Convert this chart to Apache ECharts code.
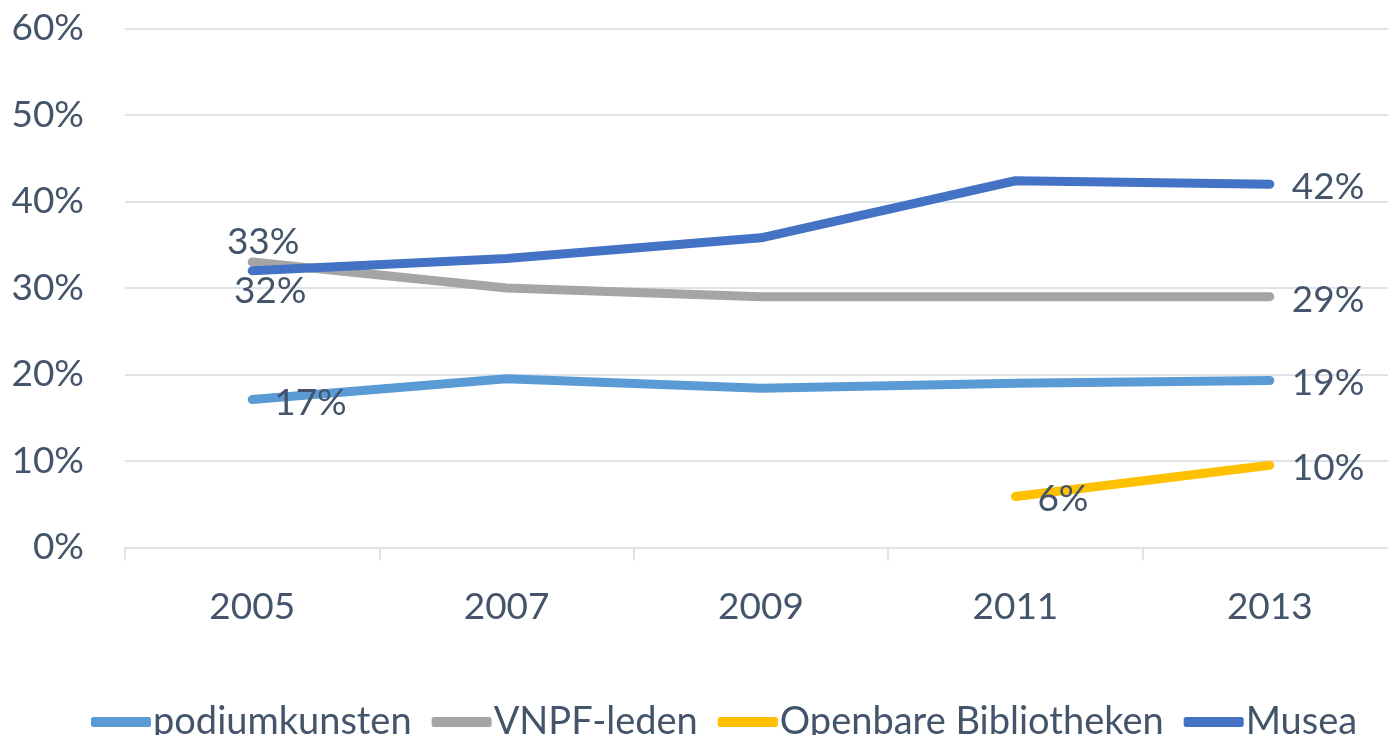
<!DOCTYPE html>
<html>
<head>
<meta charset="utf-8">
<script src="https://cdn.jsdelivr.net/npm/echarts@6/dist/echarts.min.js"></script>
<style>
  html, body { margin: 0; padding: 0; background: #fff; overflow: hidden; }
  #chart { width: 1397px; height: 735px; }
</style>
</head>
<body>
<div id="chart"></div>
<script>
// years on the x axis
var years = ['2005', '2007', '2009', '2011', '2013'];

// shares, as fractions
var podiumkunsten = [0.171, 0.195, 0.184, 0.190, 0.193];
var vnpfLeden = [0.330, 0.300, 0.290, 0.290, 0.290];
var bibliotheken = [null, null, null, 0.059, 0.095];
var musea = [0.320, 0.334, 0.358, 0.424, 0.420];

var yTicks = [0, 0.1, 0.2, 0.3, 0.4, 0.5, 0.6];

var textColor = '#44546A';
var gridColor = '#DEE3EA';
var font = 'Lato';

var rightLabel = { position: 'right', distance: 22, offset: [0, 3] };

// label first and last point only, like the original
function withLabels(values, firstLabel) {
    var first = -1, last = -1;
    for (var i = 0; i < values.length; i++) {
        if (values[i] != null) {
            if (first < 0) first = i;
            last = i;
        }
    }
    return values.map(function (v, i) {
        if (i === first) return { value: v, label: Object.assign({ show: true }, firstLabel) };
        if (i === last) return { value: v, label: Object.assign({ show: true }, rightLabel) };
        return v;
    });
}

function makeSeries(name, values, color, firstLabel) {
    return {
        name: name,
        type: 'line',
        data: withLabels(values, firstLabel),
        showSymbol: true,
        symbol: 'circle',
        symbolSize: 0,
        lineStyle: { width: 9, color: color, cap: 'round', join: 'round' },
        itemStyle: { color: color },
        label: {
            show: false,
            color: textColor,
            fontFamily: font,
            fontSize: 37,
            formatter: function (p) { return Math.round(p.value * 100) + '%'; }
        },
        emphasis: { disabled: true }
    };
}

var myChart = echarts.init(document.getElementById('chart'));
var option = {
    backgroundColor: '#ffffff',
    animation: false,
    grid: { left: 125, right: 0, top: 28.5, bottom: 187.5 },
    legend: {
        data: ['podiumkunsten', 'VNPF-leden', 'Openbare Bibliotheken', 'Musea'],
        left: 86,
        top: 698,
        icon: 'roundRect',
        itemWidth: 60,
        itemHeight: 10,
        itemGap: 20,
        textStyle: { color: textColor, fontFamily: font, fontSize: 38, padding: [0, 0, 0, -3] }
    },
    xAxis: {
        type: 'category',
        data: years,
        boundaryGap: true,
        axisLine: { show: true, lineStyle: { color: gridColor, width: 2 } },
        axisTick: { show: true, length: 13, lineStyle: { color: gridColor, width: 2 } },
        axisLabel: { color: textColor, fontFamily: font, fontSize: 37, margin: 41, interval: 0 }
    },
    yAxis: {
        type: 'value',
        min: yTicks[0],
        max: yTicks[yTicks.length - 1],
        interval: 0.1,
        axisLine: { show: false },
        axisTick: { show: false },
        splitLine: { lineStyle: { color: gridColor, width: 2 } },
        axisLabel: {
            color: textColor,
            fontFamily: font,
            fontSize: 37,
            margin: 41,
            formatter: function (v) { return Math.round(v * 100) + '%'; }
        }
    },
    series: [
        makeSeries('podiumkunsten', podiumkunsten, '#5B9BD5', rightLabel),
        makeSeries('VNPF-leden', vnpfLeden, '#A5A5A5', { position: 'top', distance: 2, offset: [11, 1] }),
        makeSeries('Openbare Bibliotheken', bibliotheken, '#FFC000', rightLabel),
        makeSeries('Musea', musea, '#4472C4', { position: 'bottom', distance: 0, offset: [18, 2] })
    ]
};
myChart.setOption(option);
</script>
</body>
</html>
